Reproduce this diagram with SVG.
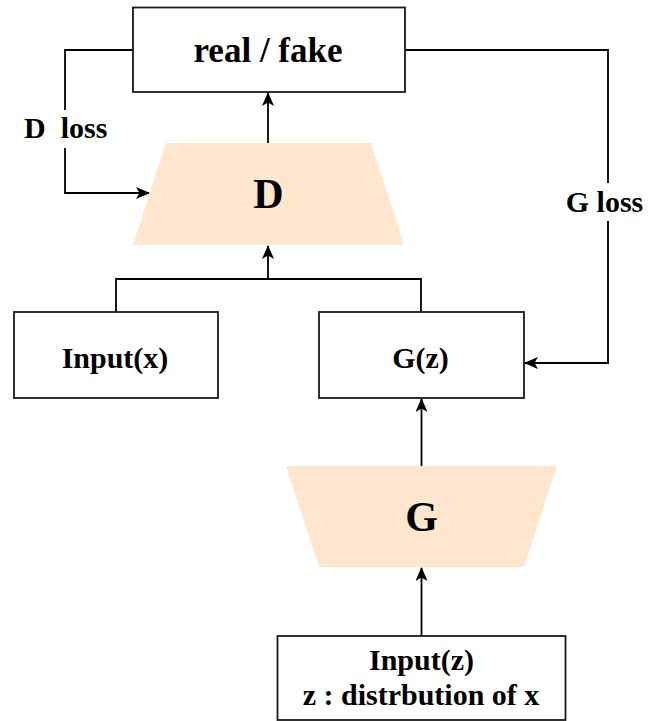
<svg xmlns="http://www.w3.org/2000/svg" width="656" height="721" viewBox="0 0 656 721">
  <style>
    .box { fill: #ffffff; stroke: #1a1a1a; stroke-width: 1.8; }
    .trap { fill: #ffe6cc; stroke: none; }
    .lbl { font-family: "Liberation Serif", "Times New Roman", serif; font-weight: bold; fill: #000; text-anchor: middle; }
    .edge { fill: none; stroke: #000; stroke-width: 1.8; }
    .elbl { font-family: "Liberation Serif", "Times New Roman", serif; font-weight: bold; fill: #000; font-size: 30px; white-space: pre; }
  </style>
  <defs>
    <marker id="arrow" viewBox="0 0 14 12" refX="13" refY="6" markerWidth="14" markerHeight="12" markerUnits="userSpaceOnUse" orient="auto">
      <path d="M0,0 L14,6 L0,12 L3.5,6 Z" fill="#000"/>
    </marker>
  </defs>

  <!-- connectors -->
  <g id="connectors">
    <path class="edge" d="M268,143 L268,93" marker-end="url(#arrow)"/>
    <path class="edge" d="M116,312 L116,279 L421,279 L421,312"/>
    <path class="edge" d="M268,279 L268,246" marker-end="url(#arrow)"/>
    <path class="edge" d="M421.5,466 L421.5,399" marker-end="url(#arrow)"/>
    <path class="edge" d="M421.5,636 L421.5,568" marker-end="url(#arrow)"/>
    <!-- D loss feedback -->
    <path class="edge" d="M133,50 L65,50 L65,110"/>
    <path class="edge" d="M65,148 L65,193 L149,193" marker-end="url(#arrow)"/>
    <text class="elbl" x="24" y="138">D  loss</text>
    <!-- G loss feedback -->
    <path class="edge" d="M405,50 L608,50 L608,183"/>
    <path class="edge" d="M608,221 L608,363 L525,363" marker-end="url(#arrow)"/>
    <text class="elbl" x="604.5" y="212" text-anchor="middle">G loss</text>
  </g>

  <g id="real-fake">
    <rect class="box" x="133" y="7.5" width="272" height="84.5"/>
    <text class="lbl" x="268" y="62" font-size="35">real / fake</text>
  </g>

  <g id="discriminator">
    <polygon class="trap" points="166,143 371,143 404,245 133,245"/>
    <text class="lbl" x="268.5" y="208" font-size="42">D</text>
  </g>

  <g id="input-x">
    <rect class="box" x="14" y="312" width="204" height="86"/>
    <text class="lbl" x="115" y="368" font-size="30">Input(x)</text>
  </g>

  <g id="g-of-z">
    <rect class="box" x="319" y="312" width="205" height="86"/>
    <text class="lbl" x="420.5" y="368" font-size="30">G(z)</text>
  </g>

  <g id="generator">
    <polygon class="trap" points="286,466 557,466 524,567 319,567"/>
    <text class="lbl" x="421.5" y="531" font-size="42">G</text>
  </g>

  <g id="input-z">
    <rect class="box" x="277.5" y="636" width="288" height="84"/>
    <text class="lbl" x="421.5" y="670" font-size="30">Input(z)</text>
    <text class="lbl" x="421" y="705" font-size="30">z : distrbution of x</text>
  </g>
</svg>
